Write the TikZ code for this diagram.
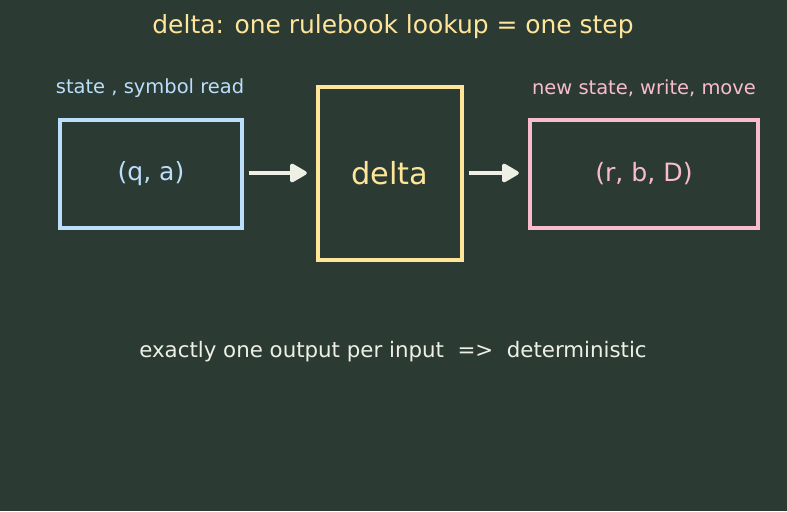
\documentclass[tikz,border=0pt]{standalone}
\usepackage{fontspec}
\setmainfont{DejaVu Sans}
\usetikzlibrary{arrows.meta}
\definecolor{bg}{HTML}{2B3B34}
\definecolor{cblue}{HTML}{BBDEFB}
\definecolor{cyellow}{HTML}{FFE599}
\definecolor{cpink}{HTML}{F8BBD0}
\definecolor{cwhite}{HTML}{EEF0E6}
\tikzset{
  boxstyle/.style={draw=#1, line width=2.8pt, fill=bg, text=#1},
  arrowstyle/.style={draw=cwhite, line width=2.8pt, -{Triangle[length=14pt,width=15.5pt,round]}},
}
\begin{document}
\begin{tikzpicture}[x=0.75pt,y=-0.75pt]
\fill[bg] (0,0) rectangle (787,511);
\useasboundingbox (0,0) rectangle (787,511);
\node[text=cyellow, font=\fontsize{18.7}{22}\selectfont] (title) at (393,27) {delta: one rulebook lookup = one step};
\node[text=cblue, font=\fontsize{14.6}{17}\selectfont] (lblin) at (150,88) {state , symbol read};
\node[text=cpink, font=\fontsize{14.6}{17}\selectfont] (lblout) at (644,88) {new state, write, move};
\node[boxstyle=cblue, minimum width=136.5pt, minimum height=81pt, font=\fontsize{18.8}{22}\selectfont] (in) at (151,174) {(q, a)};
\node[boxstyle=cyellow, minimum width=108pt, minimum height=130pt, font=\fontsize{22.8}{26}\selectfont] (delta) at (390,173.5) {delta};
\node[boxstyle=cpink, minimum width=171pt, minimum height=81pt, font=\fontsize{18.9}{22}\selectfont] (out) at (644,174) {(r, b, D)};
\draw[arrowstyle] ([xshift=3.5pt]in.east |- 0,173) -- ([xshift=-7pt]delta.west |- 0,173);
\draw[arrowstyle] ([xshift=3.5pt]delta.east |- 0,173) -- ([xshift=-7pt]out.west |- 0,173);
\node[text=cwhite, font=\fontsize{16}{19}\selectfont] (note) at (393,352) {exactly one output per input \ =>\ \ deterministic};
\end{tikzpicture}
\end{document}
